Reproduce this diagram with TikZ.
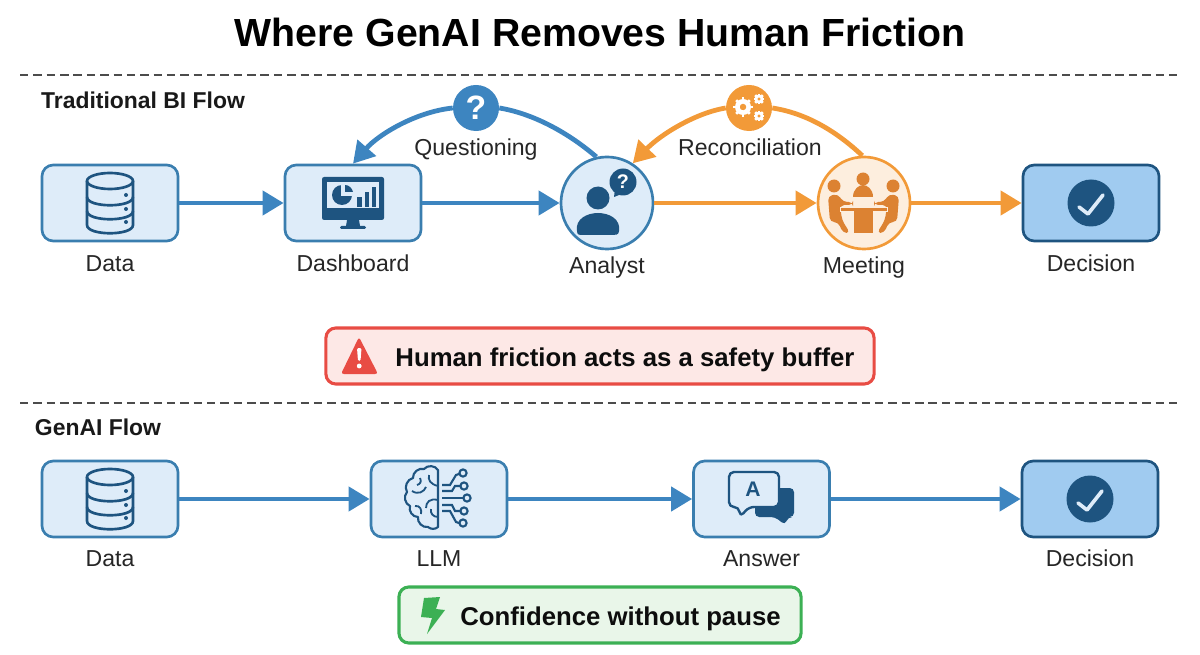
\documentclass[tikz,border=0pt]{standalone}
\usepackage{fontspec}
\setmainfont{Liberation Sans}
\usepackage{xcolor}
\usetikzlibrary{arrows.meta}
\definecolor{FlowBlue}{RGB}{61, 133, 192}
\definecolor{EdgeBlue}{RGB}{58, 126, 175}
\definecolor{DeepBlue}{RGB}{30, 84, 128}
\definecolor{PaleBlue}{RGB}{222, 236, 249}
\definecolor{MidBlue}{RGB}{160, 203, 240}
\definecolor{FlowOrange}{RGB}{242, 154, 56}
\definecolor{DarkOrange}{RGB}{220, 130, 50}
\definecolor{PaleOrange}{RGB}{253, 238, 222}
\definecolor{AlertRed}{RGB}{232, 76, 68}
\definecolor{PaleRed}{RGB}{253, 232, 230}
\definecolor{OkGreen}{RGB}{60, 176, 84}
\definecolor{PaleGreen}{RGB}{233, 246, 233}
\tikzset{
    flowbox/.style={draw=EdgeBlue, fill=PaleBlue, line width=1.9pt, rounded corners=8pt, minimum width=3.4cm, minimum height=1.9cm},
    endbox/.style={flowbox, draw=DeepBlue, fill=MidBlue},
    bluecircle/.style={circle, draw=EdgeBlue, fill=PaleBlue, line width=1.9pt, minimum size=2.3cm},
    orangecircle/.style={circle, draw=FlowOrange, fill=PaleOrange, line width=1.9pt, minimum size=2.3cm},
    badge/.style={circle, minimum size=1.15cm, inner sep=0pt, text=white, font=\fontsize{24}{24}\selectfont\bfseries},
    flowlabel/.style={font=\fontsize{16.4}{20}\selectfont, text=black!85, text height=11.7pt, text depth=0pt},
    sectionlabel/.style={font=\fontsize{16.3}{20}\selectfont\bfseries, text=black!90, text height=11.7pt, text depth=0pt},
    bluearrow/.style={draw=FlowBlue, line width=3.4pt, -{Triangle[length=15pt,width=17pt]}},
    orangearrow/.style={draw=FlowOrange, line width=3.4pt, -{Triangle[length=15pt,width=17pt]}},
    blueline/.style={draw=FlowBlue, line width=3.4pt},
    orangeline/.style={draw=FlowOrange, line width=3.4pt},
    divider/.style={draw=black!70, line width=0.8pt, dash pattern=on 6pt off 3.5pt},
    banner/.style={rounded corners=7pt, line width=2.2pt, minimum height=1.4cm},
    bannertext/.style={font=\fontsize{18.3}{22}\selectfont\bfseries, text=black!95, text height=13.1pt, text depth=0pt},
    pics/dbicon/.style={code={
        \draw[DeepBlue, line width=1.9pt] (-23,-22) -- (-23,22) .. controls (-23,33) and (23,33) .. (23,22) -- (23,-22);
        \draw[DeepBlue, line width=1.9pt] (0,-22) ellipse (23 and 8);
        \draw[DeepBlue, line width=1.9pt] (-23,-6) .. controls (-23,5) and (23,5) .. (23,-6);
        \draw[DeepBlue, line width=1.9pt] (-23,8) .. controls (-23,19) and (23,19) .. (23,8);
        \foreach \dy in {-8,6,19} \fill[DeepBlue] (16,\dy) circle (2);
    }},
    pics/screenicon/.style={code={
        \fill[DeepBlue, rounded corners=1.5pt] (-31,-26) rectangle (31,17);
        \fill[PaleBlue] (-26,-21) rectangle (26,5);
        \fill[DeepBlue] (-6,17) -- (6,17) -- (7,23) -- (-7,23) -- cycle;
        \fill[DeepBlue, rounded corners=1pt] (-13,23) rectangle (13,26);
        \fill[DeepBlue] (-11,-8) circle (10);
        \draw[PaleBlue, line width=1pt] (-11,-18) -- (-11,-8) -- (-1,-8);
        \fill[PaleBlue] (-10,-19) rectangle (0,-9);
        \fill[DeepBlue] (-8,-18) .. controls (-4,-18) and (-1,-15) .. (0,-11) -- (-8,-11) -- cycle;
        \fill[DeepBlue] (4,-6) rectangle (9,4);
        \fill[DeepBlue] (12,-11) rectangle (16,4);
        \fill[DeepBlue] (19,-16) rectangle (23,4);
    }},
    pics/analysticon/.style={code={
        \fill[DeepBlue] (-9,-5) circle (11.5);
        \fill[DeepBlue] (-30,28) .. controls (-32,16) and (-20,10) .. (-9,10) .. controls (2,10) and (14,16) .. (12,28) .. controls (12,32) and (8,32) .. (6,32) -- (-24,32) .. controls (-28,32) and (-30,32) .. (-30,28) -- cycle;
        \fill[DeepBlue] (16,-21) circle (13.5);
        \fill[DeepBlue] (8,-14) -- (7,-6) -- (17,-10) -- cycle;
    }},
    pics/gearicon/.style={code={
        \foreach \a in {0,45,...,315} \draw[white, line width=1.8pt] (\a:#1*0.8) -- (\a:#1*1.2);
        \fill[white, even odd rule] (0,0) circle (#1) (0,0) circle (#1*0.42);
    }},
    pics/tableicon/.style={code={
        \fill[DarkOrange] (-1,-24) circle (6.5);
        \fill[DarkOrange] (-11,-6) .. controls (-11,-14) and (-5,-18) .. (-1,-18) .. controls (3,-18) and (9,-14) .. (9,-6) -- cycle;
        \fill[DarkOrange] (-30,-17) circle (6.5);
        \fill[DarkOrange] (29,-17) circle (6.5);
        \fill[DarkOrange, rounded corners=3pt] (-36,-7) -- (-26,-9) -- (-21,-1) -- (-11,-1) -- (-11,2) -- (-24,2) -- (-22,17) -- (-14,30) -- (-21,30) -- (-26,19) -- (-34,19) -- cycle;
        \fill[DarkOrange, rounded corners=3pt] (35,-7) -- (25,-9) -- (20,-1) -- (10,-1) -- (10,2) -- (23,2) -- (21,17) -- (13,30) -- (20,30) -- (25,19) -- (33,19) -- cycle;
        \fill[DarkOrange, draw=PaleOrange, line width=0.7pt] (-24,4) rectangle (23,8);
        \fill[DarkOrange] (-10,8.5) rectangle (9,30);
    }},
    pics/checkicon/.style={code={
        \fill[DeepBlue] (0,0) circle (23.5);
        \draw[PaleBlue, line width=2.6pt, line cap=round, line join=round] (-12,4) -- (-3,11) -- (12,-8);
    }},
    pics/brainicon/.style={code={
        \draw[DeepBlue, line width=1.5pt, line join=round] (438,470) to[bend right=55] (424,469) to[bend right=55] (413,478) to[bend right=55] (407,492) to[bend right=55] (410,506) to[bend right=55] (418,517) to[bend right=55] (428,527) to[bend right=40] (438,527) -- cycle;
        \draw[DeepBlue, line width=1.3pt] (438,486) .. controls (430,484) and (428,480) .. (429,475);
        \draw[DeepBlue, line width=1.3pt] (412,491) .. controls (418,495) and (424,492) .. (426,487);
        \draw[DeepBlue, line width=1.3pt] (438,500) .. controls (430,498) and (426,502) .. (426,508);
        \draw[DeepBlue, line width=1.3pt] (415,506) .. controls (420,505) and (422,510) .. (421,514);
        \draw[DeepBlue, line width=1.3pt] (438,517) .. controls (433,517) and (430,513) .. (431,509);
        \draw[DeepBlue, line width=1.3pt] (420,478) .. controls (422,482) and (420,484) .. (417,485);
        \draw[DeepBlue, line width=1.5pt] (442,485) -- (450,485) -- (456,475) -- (459,474);
        \draw[DeepBlue, line width=1.5pt] (442,491) -- (452,491) -- (455,486) -- (460,486);
        \draw[DeepBlue, line width=1.5pt] (442,498) -- (463,498);
        \draw[DeepBlue, line width=1.5pt] (442,505) -- (452,505) -- (455,511) -- (460,511);
        \draw[DeepBlue, line width=1.5pt] (442,511) -- (450,511) -- (456,522) -- (459,523);
        \foreach \cx/\cy in {463/473, 464/486, 467/498, 464/511, 463/523} \draw[DeepBlue, line width=1.5pt] (\cx,\cy) circle (3.6);
    }},
    pics/chaticon/.style={code={
        \fill[DeepBlue, rounded corners=3pt] (755,488) -- (794,488) -- (794,517) -- (788,517) -- (785,525) -- (775,517) -- (755,517) -- cycle;
        \draw[DeepBlue, fill=PaleBlue, line width=1.7pt, rounded corners=3.5pt, line join=round] (729,472) -- (779,472) -- (779,507) -- (749,507) -- (740,517) -- (739,507) -- (729,507) -- cycle;
    }},
}
\begin{document}
\begin{tikzpicture}[x=0.025cm, y=-0.025cm]
    \useasboundingbox (0,0) rectangle (1200,655);

    \node[text height=20pt, text depth=0pt] (maintitle) at (600,32) {\fontsize{27.9}{34}\selectfont\bfseries Where GenAI Removes Human Friction};
    \coordinate (divtopl) at (20,75);
    \coordinate (divtopr) at (1180,75);
    \coordinate (divmidl) at (20,403);
    \coordinate (divmidr) at (1180,403);
    \draw[divider] (divtopl) -- (divtopr);
    \draw[divider] (divmidl) -- (divmidr);
    \node[sectionlabel] (tradtitle) at (143,100) {Traditional BI Flow};
    \node[sectionlabel] (genaititle) at (98,427) {GenAI Flow};

    % traditional row
    \node[flowbox] (data) at (110,203) {};
    \node[flowbox] (dashboard) at (353,203) {};
    \node[bluecircle] (analyst) at (607,203) {};
    \node[orangecircle] (meeting) at (864,203) {};
    \node[endbox] (decision) at (1091,203) {};
    \node[flowlabel] (datalabel) at (110,263) {Data};
    \node[flowlabel] (dashboardlabel) at (353,263) {Dashboard};
    \node[flowlabel] (analystlabel) at (607,265) {Analyst};
    \node[flowlabel] (meetinglabel) at (864,265) {Meeting};
    \node[flowlabel] (decisionlabel) at (1091,263) {Decision};
    \node[badge, fill=FlowBlue] (questionbadge) at (476,108) {?};
    \node[badge, fill=FlowOrange] (gearbadge) at (749,108) {};
    \node[flowlabel] (questionlabel) at (476,147) {Questioning};
    \node[flowlabel] (reconlabel) at (750,147) {Reconciliation};

    \draw[bluearrow] (data) -- (dashboard);
    \draw[bluearrow] (dashboard) -- (analyst);
    \draw[orangearrow] (analyst) -- (meeting);
    \draw[orangearrow] (meeting) -- (decision);
    \draw[blueline] (analyst.103) .. controls (565,130) and (530,113) .. (questionbadge.east);
    \draw[bluearrow] (questionbadge.west) .. controls (415,112) and (378,135) .. (dashboard.north);
    \draw[orangeline] (meeting.92) .. controls (835,130) and (805,113) .. (gearbadge.east);
    \draw[orangearrow] (gearbadge.west) .. controls (695,113) and (660,135) .. (analyst.57);

    \pic at (110,203) {dbicon};
    \pic at (353,203) {screenicon};
    \pic at (607,203) {analysticon};
    \node[text=white, font=\fontsize{14}{14}\selectfont\bfseries] (bubblemark) at (623,182) {?};
    \pic at (743,107) {gearicon=8};
    \pic at (759,99) {gearicon=4.5};
    \pic at (759,116) {gearicon=4.5};
    \pic at (864,203) {tableicon};
    \pic at (1091,203) {checkicon};

    \node[banner, draw=AlertRed, fill=PaleRed, minimum width=13.7cm] (frictionbanner) at (600,356) {};
    \fill[AlertRed, rounded corners=2pt] (359,337) -- (378,374) -- (341,374) -- cycle;
    \fill[white, rounded corners=1pt] (357,348) -- (361.5,348) -- (360.5,361) -- (358,361) -- cycle;
    \fill[white] (359.2,366) circle (2.4);
    \node[bannertext] (frictiontext) at (625,357) {Human friction acts as a safety buffer};

    % genai row
    \node[flowbox] (data2) at (110,499) {};
    \node[flowbox] (llm) at (439,499) {};
    \node[flowbox] (answer) at (761.5,499) {};
    \node[endbox] (decision2) at (1090,499) {};
    \node[flowlabel] (data2label) at (110,558) {Data};
    \node[flowlabel] (llmlabel) at (439,558) {LLM};
    \node[flowlabel] (answerlabel) at (761.5,558) {Answer};
    \node[flowlabel] (decision2label) at (1090,558) {Decision};

    \draw[bluearrow] (data2) -- (llm);
    \draw[bluearrow] (llm) -- (answer);
    \draw[bluearrow] (answer) -- (decision2);

    \pic at (110,499) {dbicon};
    \pic at (0,0) {brainicon};
    \pic at (0,0) {chaticon};
    \node[text=DeepBlue, font=\fontsize{15}{15}\selectfont\bfseries] (chatletter) at (753,489) {A};
    \pic at (1090,499) {checkicon};

    \node[banner, draw=OkGreen, fill=PaleGreen, minimum width=10.05cm] (confidencebanner) at (600,615) {};
    \fill[OkGreen] (424,598) -- (440,597) -- (436,609) -- (445,610) -- (427,634) -- (432,618) -- (421,617) -- cycle;
    \node[bannertext] (confidencetext) at (620.5,616) {Confidence without pause};
\end{tikzpicture}
\end{document}
